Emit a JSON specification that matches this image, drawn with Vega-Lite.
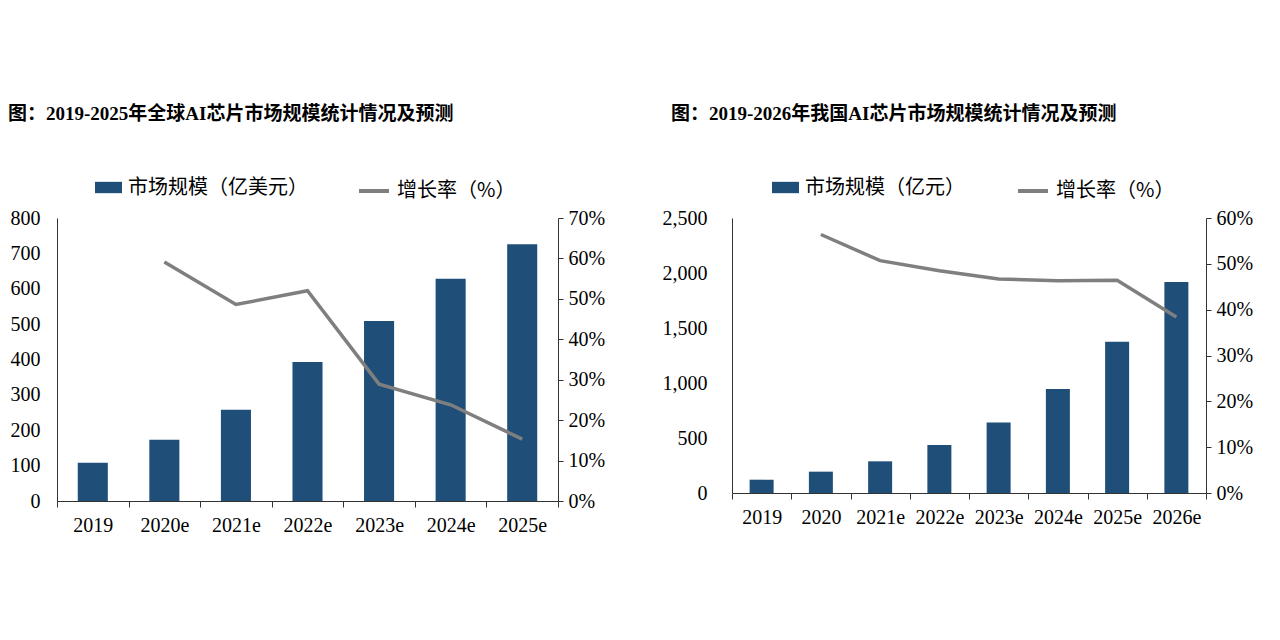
{
  "$schema": "https://vega.github.io/schema/vega-lite/v6.json",
  "background": "white",
  "padding": {"left": 8, "top": 105, "right": 0, "bottom": 0},
  "datasets": {
    "global": [
      {"year": "2019", "size": 108, "growth": null},
      {"year": "2020e", "size": 173, "growth": 0.591},
      {"year": "2021e", "size": 258, "growth": 0.486},
      {"year": "2022e", "size": 393, "growth": 0.52},
      {"year": "2023e", "size": 509, "growth": 0.289},
      {"year": "2024e", "size": 628, "growth": 0.238},
      {"year": "2025e", "size": 726, "growth": 0.153}
    ],
    "china": [
      {"year": "2019", "size": 121, "growth": null},
      {"year": "2020", "size": 194, "growth": 0.564},
      {"year": "2021e", "size": 288, "growth": 0.507},
      {"year": "2022e", "size": 436, "growth": 0.485},
      {"year": "2023e", "size": 642, "growth": 0.467},
      {"year": "2024e", "size": 945, "growth": 0.463},
      {"year": "2025e", "size": 1376, "growth": 0.464},
      {"year": "2026e", "size": 1918, "growth": 0.384}
    ]
  },
  "config": {
    "font": "Liberation Serif, serif",
    "view": {"stroke": null},
    "style": {"guide-label": {"font": "Liberation Serif, serif", "fontSize": 20, "fill": "#000"}},
    "axis": {"labelFont": "Liberation Serif, serif", "labelFontSize": 20, "labelColor": "#000", "domainColor": "#333", "tickColor": "#333", "grid": false, "labelOverlap": false},
    "legend": {"labelFont": "Noto Sans CJK SC", "labelFontSize": 20, "labelColor": "#000", "labelOffset": 6, "labelLimit": 400},
    "title": {"font": "Liberation Serif, Noto Sans CJK SC", "fontSize": 19, "fontWeight": "bold", "color": "#000", "anchor": "start", "frame": "bounds"}
  },
  "spacing": 57,
  "resolve": {"scale": {"x": "independent", "y": "independent", "fill": "independent", "stroke": "independent"}, "legend": {"fill": "independent", "stroke": "independent"}},
  "hconcat": [
    {
      "width": 501,
      "height": 283,
      "title": {"text": "图：2019-2025年全球AI芯片市场规模统计情况及预测", "offset": 50, "dx": -2},
      "data": {"name": "global"},
      "encoding": {
        "x": {"field": "year", "type": "ordinal", "sort": null, "scale": {"paddingInner": 0, "paddingOuter": 0}, "axis": {"labelFont": "Liberation Serif, serif", "tickBand": "extent", "labelAngle": 0, "tickSize": 6, "labelPadding": 8, "title": null}}
      },
      "layer": [
        {
          "mark": {"type": "bar", "width": {"band": 0.42}},
          "encoding": {
            "y": {"field": "size", "type": "quantitative", "scale": {"domain": [0, 800]}, "axis": {"labelFont": "Liberation Serif, serif", "values": [0, 100, 200, 300, 400, 500, 600, 700, 800], "ticks": false, "labelPadding": 17, "title": null}},
            "fill": {"datum": "市场规模（亿美元）", "scale": {"range": ["#1F4E79"]}, "legend": {"orient": "none", "legendX": 38, "legendY": -44, "title": null, "symbolType": "M-1,-0.42H1V0.42H-1Z", "symbolSize": 729, "symbolStrokeWidth": 0, "labelFont": "Noto Sans CJK SC"}}
          }
        },
        {
          "mark": {"type": "line", "strokeWidth": 3.5},
          "encoding": {
            "y": {"field": "growth", "type": "quantitative", "scale": {"domain": [0, 0.7]}, "axis": {"labelFont": "Liberation Serif, serif", "orient": "right", "values": [0, 0.1, 0.2, 0.3, 0.4, 0.5, 0.6, 0.7], "format": ".0%", "tickSize": 5, "labelPadding": 5, "title": null}},
            "stroke": {"datum": "增长率（%）", "scale": {"range": ["#7F7F7F"]}, "legend": {"orient": "none", "legendX": 300, "legendY": -44, "title": null, "symbolType": "stroke", "symbolSize": 900, "symbolStrokeWidth": 4, "labelFont": "Noto Sans CJK SC"}}
          }
        }
      ],
      "resolve": {"scale": {"y": "independent"}}
    },
    {
      "width": 474,
      "height": 275,
      "title": {"text": "图：2019-2026年我国AI芯片市场规模统计情况及预测", "offset": 50, "dx": 9},
      "data": {"name": "china"},
      "encoding": {
        "x": {"field": "year", "type": "ordinal", "sort": null, "scale": {"paddingInner": 0, "paddingOuter": 0}, "axis": {"labelFont": "Liberation Serif, serif", "tickBand": "extent", "labelAngle": 0, "tickSize": 6, "labelPadding": 8, "title": null}}
      },
      "layer": [
        {
          "mark": {"type": "bar", "width": {"band": 0.405}},
          "encoding": {
            "y": {"field": "size", "type": "quantitative", "scale": {"domain": [0, 2500]}, "axis": {"labelFont": "Liberation Serif, serif", "values": [0, 500, 1000, 1500, 2000, 2500], "format": ",.0f", "ticks": false, "labelPadding": 25, "title": null}},
            "fill": {"datum": "市场规模（亿元）", "scale": {"range": ["#1F4E79"]}, "legend": {"orient": "none", "legendX": 40, "legendY": -44, "title": null, "symbolType": "M-1,-0.42H1V0.42H-1Z", "symbolSize": 729, "symbolStrokeWidth": 0, "labelFont": "Noto Sans CJK SC"}}
          }
        },
        {
          "mark": {"type": "line", "strokeWidth": 3.5},
          "encoding": {
            "y": {"field": "growth", "type": "quantitative", "scale": {"domain": [0, 0.6]}, "axis": {"labelFont": "Liberation Serif, serif", "orient": "right", "values": [0, 0.1, 0.2, 0.3, 0.4, 0.5, 0.6], "format": ".0%", "tickSize": 5, "labelPadding": 5, "title": null}},
            "stroke": {"datum": "增长率（%）", "scale": {"range": ["#7F7F7F"]}, "legend": {"orient": "none", "legendX": 284, "legendY": -44, "title": null, "symbolType": "stroke", "symbolSize": 900, "symbolStrokeWidth": 4, "labelFont": "Noto Sans CJK SC"}}
          }
        }
      ],
      "resolve": {"scale": {"y": "independent"}}
    }
  ]
}
